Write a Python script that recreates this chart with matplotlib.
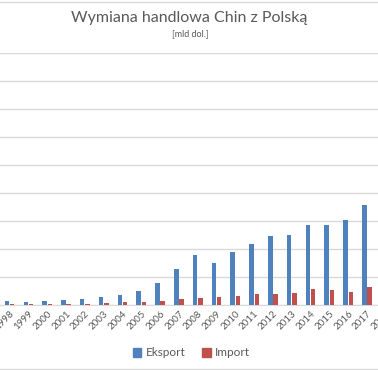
import matplotlib
matplotlib.use("Agg")
import matplotlib.pyplot as plt
from matplotlib.lines import Line2D
from matplotlib.patches import Patch
import numpy as np

years = [str(y) for y in range(1998, 2019)]
eksport = [0.65, 0.6, 0.7, 0.9, 1.05, 1.5, 1.8, 2.5, 3.9, 6.4, 8.9, 7.5, 9.4, 10.9,
           12.3, 12.5, 14.2, 14.3, 15.1, 17.8, 20.9]
import_ = [0.1, 0.12, 0.12, 0.2, 0.22, 0.3, 0.45, 0.5, 0.65, 1.0, 1.3, 1.4, 1.6, 2.0,
           2.0, 2.1, 2.9, 2.7, 2.4, 3.2, 3.0]

BLUE = "#4F81BD"
RED = "#C0504D"
GRAY = "#595959"

plt.rcParams['font.family'] = ['Lato', 'DejaVu Sans']

fig = plt.figure(figsize=(3.78, 3.70), dpi=100)
ax = fig.add_axes([0, (370 - 305) / 370, 1, (305 - 53) / 370])

x = np.arange(len(years))
w = 0.24
ax.bar(x - 0.14, eksport, width=w, color=BLUE, zorder=3, label="Eksport")
ax.bar(x + 0.14, import_, width=w, color=RED, zorder=3, label="Import")

XMIN, XMAX = -0.510, 19.585
ax.set_xticks(x)
ax.set_xticklabels(years, rotation=45, ha="right", rotation_mode="anchor",
                   fontsize=7, color=GRAY)
ax.set_xlim(XMIN, XMAX)
# labels of categories whose tick lies just past the cropped edge
for xi, lab in zip(x, years):
    if xi > XMAX:
        ax.annotate(lab, xy=(xi, 0), xycoords=("data", "axes fraction"),
                    xytext=(0, -3), textcoords="offset points", rotation=45,
                    ha="right", va="top", rotation_mode="anchor", fontsize=7,
                    color=GRAY, annotation_clip=False)
ax.set_ylim(0, 45)
ax.set_yticks(np.arange(0, 46, 5))
ax.yaxis.grid(True, color="#d9d9d9", linewidth=1.0, zorder=0)
ax.tick_params(axis="y", left=False, labelleft=False)
ax.tick_params(axis="x", length=0, pad=3)
for s in ["top", "left", "right"]:
    ax.spines[s].set_visible(False)
ax.spines["bottom"].set_color("#d9d9d9")

fig.text(0.5, (370 - 18) / 370, "Wymiana handlowa Chin z Polską", ha="center", va="center",
         fontsize=11.5, color=GRAY)
fig.text(0.503, (370 - 34) / 370, "[mld dol.]", ha="center", va="center",
         fontsize=6.5, color=GRAY)

handles = [Patch(color=BLUE), Patch(color=RED)]
fig.legend(handles, ["Eksport", "Import"], loc="center", bbox_to_anchor=(0.507, (370 - 353) / 370),
           ncol=2, frameon=False, fontsize=8.5, handlelength=0.7, handleheight=0.7,
           handletextpad=0.4, columnspacing=1.4, labelcolor=GRAY)

fig.add_artist(Line2D([0, 1], [(370 - 2) / 370] * 2, color="#d9d9d9", lw=1))
fig.add_artist(Line2D([0, 1], [(370 - 368.5) / 370] * 2, color="#d9d9d9", lw=1))

fig.savefig("out.png", dpi=100)
